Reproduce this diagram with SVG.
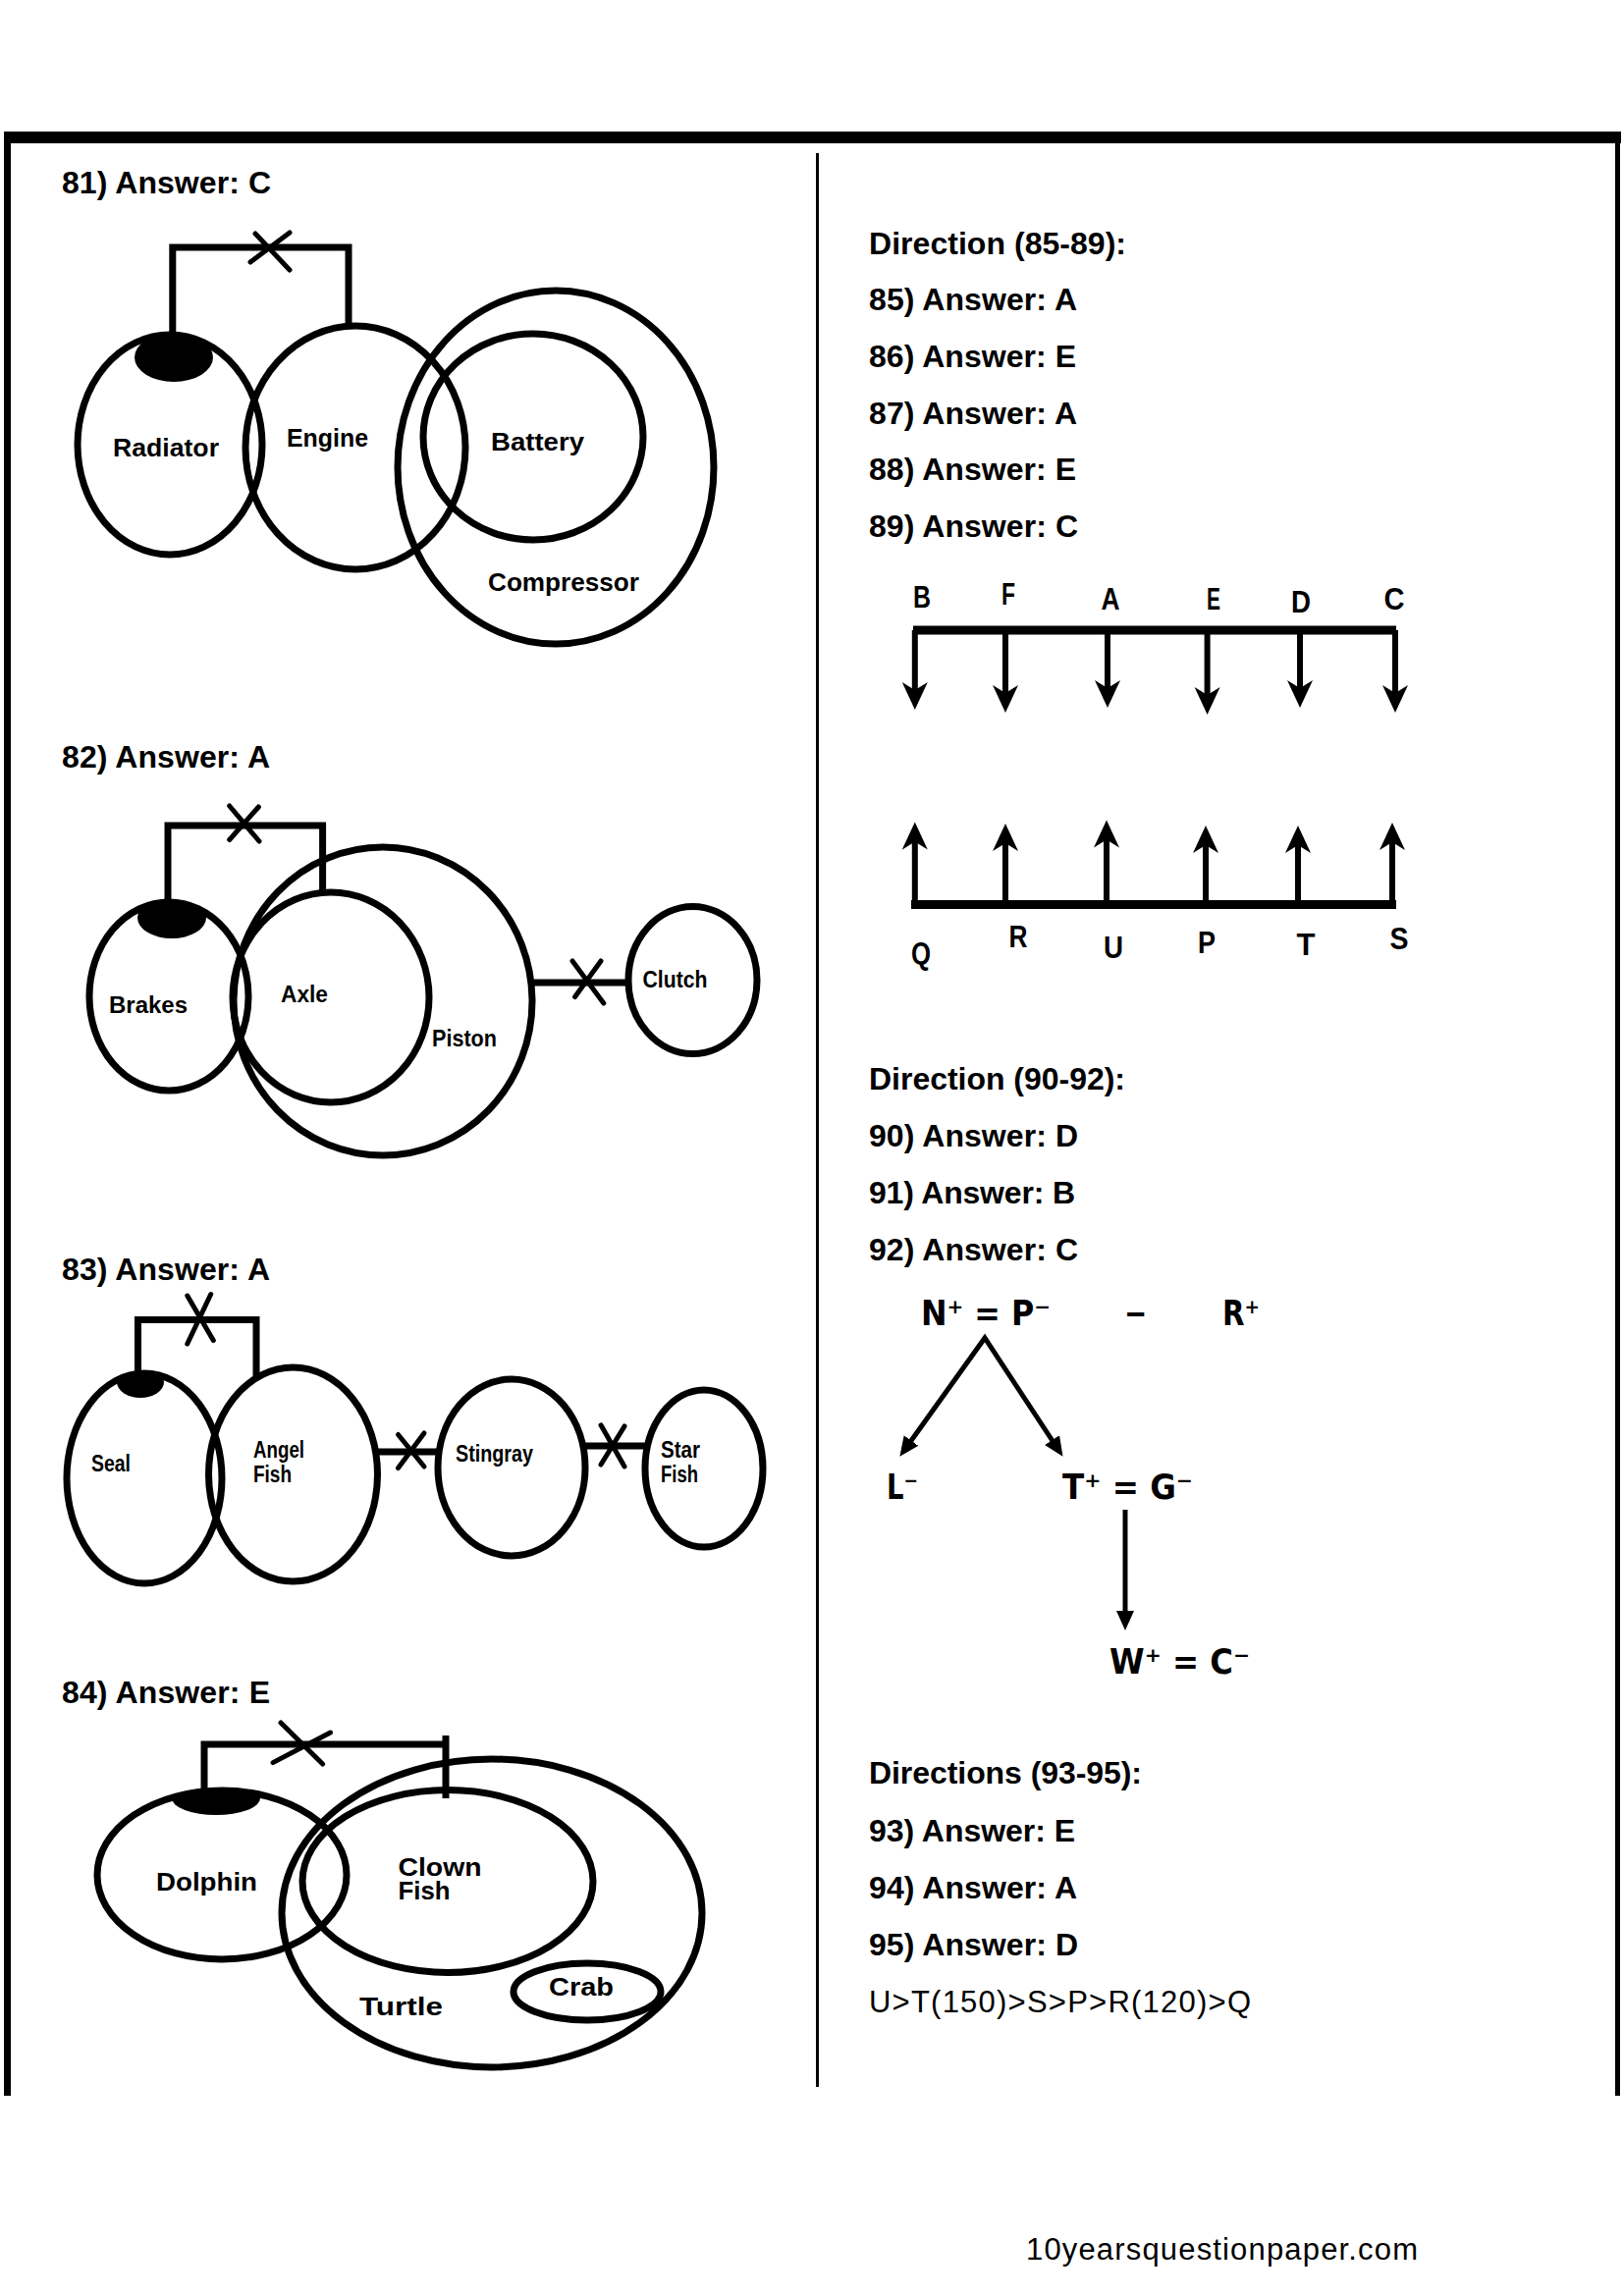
<svg xmlns="http://www.w3.org/2000/svg" width="1653" height="2339" viewBox="0 0 1653 2339">
<defs>
<style>
.ans{font-family:"Liberation Sans",Arial,sans-serif;font-weight:bold;font-size:32px;fill:#000}
.txt{font-family:"Liberation Sans",Arial,sans-serif;font-size:31px;fill:#000}
.lbl{font-family:"Liberation Sans",Arial,sans-serif;font-weight:bold;font-size:25px;fill:#000}
.lbs{font-family:"Liberation Sans",Arial,sans-serif;font-weight:bold;font-size:23px;fill:#000}
.let{font-family:"Liberation Sans",Arial,sans-serif;font-weight:bold;font-size:31px;fill:#000;text-anchor:middle}
.eq{font-family:"DejaVu Sans",sans-serif;font-weight:bold;font-size:35px;fill:#000}
.ring{fill:none;stroke:#000;stroke-width:7}
.wire{fill:none;stroke:#000;stroke-width:7}
.cross{fill:none;stroke:#000;stroke-width:5;stroke-linecap:round}
.arr{fill:none;stroke:#000;stroke-width:6;marker-end:url(#head)}
.arr2{fill:none;stroke:#000;stroke-width:5;stroke-linejoin:miter}
.blob{fill:#000}
</style>
<marker id="head" markerUnits="userSpaceOnUse" markerWidth="34" markerHeight="30" refX="15" refY="13" orient="auto"><path d="M0,0 L28,13 L0,26 L8,13 Z" fill="#000"/></marker>
<marker id="head2" markerUnits="userSpaceOnUse" markerWidth="22" markerHeight="20" refX="10" refY="9" orient="auto-start-reverse"><path d="M0,0 L20,9 L0,18 Z" fill="#000"/></marker>
<clipPath id="cRad"><ellipse cx="173" cy="453" rx="94" ry="112"/></clipPath>
<clipPath id="cBrk"><ellipse cx="172" cy="1015" rx="81" ry="96"/></clipPath>
<clipPath id="cSeal"><ellipse cx="147" cy="1506" rx="79" ry="107"/></clipPath>
<clipPath id="cDol"><ellipse cx="226" cy="1910" rx="127" ry="86"/></clipPath>
</defs>
<rect width="1653" height="2339" fill="#fff"/>
<g id="frame">
<rect x="4" y="134" width="1647" height="12" fill="#000"/>
<rect x="4" y="134" width="7" height="2001" fill="#000"/>
<rect x="1645" y="134" width="5" height="2001" fill="#000"/>
<rect x="831" y="156" width="3" height="1970" fill="#000"/>
</g>
<g id="headings">
<text class="ans" x="63" y="197" textLength="213">81) Answer: C</text>
<text class="ans" x="63" y="782" textLength="212">82) Answer: A</text>
<text class="ans" x="63" y="1304" textLength="212">83) Answer: A</text>
<text class="ans" x="63" y="1735" textLength="212">84) Answer: E</text>
<text class="ans" x="885" y="259" textLength="262">Direction (85-89):</text>
<text class="ans" x="885" y="316" textLength="212">85) Answer: A</text>
<text class="ans" x="885" y="374" textLength="211">86) Answer: E</text>
<text class="ans" x="885" y="432" textLength="212">87) Answer: A</text>
<text class="ans" x="885" y="489" textLength="211">88) Answer: E</text>
<text class="ans" x="885" y="547" textLength="213">89) Answer: C</text>
<text class="ans" x="885" y="1110" textLength="261">Direction (90-92):</text>
<text class="ans" x="885" y="1168" textLength="213">90) Answer: D</text>
<text class="ans" x="885" y="1226" textLength="210">91) Answer: B</text>
<text class="ans" x="885" y="1284" textLength="213">92) Answer: C</text>
<text class="ans" x="885" y="1817" textLength="278">Directions (93-95):</text>
<text class="ans" x="885" y="1876" textLength="210">93) Answer: E</text>
<text class="ans" x="885" y="1934" textLength="212">94) Answer: A</text>
<text class="ans" x="885" y="1992" textLength="213">95) Answer: D</text>
<text class="txt" x="885" y="2050" textLength="389">U&gt;T(150)&gt;S&gt;P&gt;R(120)&gt;Q</text>
<text class="txt" x="1045" y="2302" textLength="399">10yearsquestionpaper.com</text>
</g>
<g id="q81">
<g id="radiator">
<ellipse class="blob" cx="177" cy="364" rx="40" ry="25" clip-path="url(#cRad)"/>
<ellipse class="ring" cx="173" cy="453" rx="94" ry="112"/>
<text class="lbl" x="115" y="465" textLength="108" lengthAdjust="spacingAndGlyphs">Radiator</text>
</g>
<g id="engine">
<ellipse class="ring" cx="362" cy="456" rx="112" ry="124"/>
<text class="lbl" x="292" y="455" textLength="83" lengthAdjust="spacingAndGlyphs">Engine</text>
</g>
<g id="battery">
<ellipse class="ring" cx="543" cy="445" rx="112" ry="105"/>
<text class="lbl" x="500" y="459" textLength="95" lengthAdjust="spacingAndGlyphs">Battery</text>
</g>
<g id="compressor">
<ellipse class="ring" cx="566" cy="476" rx="161" ry="180"/>
<text class="lbl" x="497" y="602" textLength="154" lengthAdjust="spacingAndGlyphs">Compressor</text>
</g>
</g>
<g id="q82">
<g id="brakes">
<ellipse class="blob" cx="175" cy="935" rx="35" ry="21" clip-path="url(#cBrk)"/>
<ellipse class="ring" cx="172" cy="1015" rx="81" ry="96"/>
<text class="lbs" x="111" y="1032" textLength="80" lengthAdjust="spacingAndGlyphs">Brakes</text>
</g>
<g id="axle">
<ellipse class="ring" cx="337" cy="1016" rx="100" ry="107"/>
<text class="lbs" x="286" y="1021" textLength="48" lengthAdjust="spacingAndGlyphs">Axle</text>
</g>
<g id="piston">
<ellipse class="ring" cx="390" cy="1020" rx="152" ry="157"/>
<text class="lbs" x="440" y="1066" textLength="66" lengthAdjust="spacingAndGlyphs">Piston</text>
</g>
<g id="clutch">
<ellipse class="ring" cx="705.5" cy="998.5" rx="65.5" ry="75"/>
<text class="lbs" x="654.5" y="1006" textLength="66" lengthAdjust="spacingAndGlyphs">Clutch</text>
</g>
</g>
<g id="q83">
<g id="seal">
<ellipse class="blob" cx="143" cy="1408" rx="24" ry="16" clip-path="url(#cSeal)"/>
<ellipse class="ring" cx="147" cy="1506" rx="79" ry="107"/>
<text class="lbs" x="93" y="1499" textLength="40" lengthAdjust="spacingAndGlyphs">Seal</text>
</g>
<g id="angelfish">
<ellipse class="ring" cx="298.5" cy="1502" rx="86" ry="109"/>
<text class="lbs" x="258" y="1485" textLength="52" lengthAdjust="spacingAndGlyphs">Angel</text>
<text class="lbs" x="258" y="1510" textLength="39" lengthAdjust="spacingAndGlyphs">Fish</text>
</g>
<g id="stingray">
<ellipse class="ring" cx="521" cy="1495" rx="75" ry="90"/>
<text class="lbs" x="464" y="1489" textLength="79" lengthAdjust="spacingAndGlyphs">Stingray</text>
</g>
<g id="starfish">
<ellipse class="ring" cx="717" cy="1496" rx="60" ry="80"/>
<text class="lbs" x="673" y="1485" textLength="40" lengthAdjust="spacingAndGlyphs">Star</text>
<text class="lbs" x="673" y="1510" textLength="38" lengthAdjust="spacingAndGlyphs">Fish</text>
</g>
</g>
<g id="q84">
<g id="dolphin">
<ellipse class="blob" cx="220" cy="1832" rx="45" ry="17" clip-path="url(#cDol)"/>
<ellipse class="ring" cx="226" cy="1910" rx="127" ry="86"/>
<text class="lbl" x="159" y="1926" textLength="103" lengthAdjust="spacingAndGlyphs">Dolphin</text>
</g>
<g id="clownfish">
<ellipse class="ring" cx="456" cy="1916.5" rx="148" ry="93"/>
<text class="lbl" x="405.5" y="1911" textLength="85" lengthAdjust="spacingAndGlyphs">Clown</text>
<text class="lbl" x="405.5" y="1935" textLength="53" lengthAdjust="spacingAndGlyphs">Fish</text>
</g>
<g id="turtle">
<ellipse class="ring" cx="501" cy="1949" rx="214" ry="157"/>
<text class="lbl" x="366" y="2053" textLength="85" lengthAdjust="spacingAndGlyphs">Turtle</text>
</g>
<g id="crab">
<ellipse class="ring" cx="598" cy="2029" rx="75" ry="29"/>
<text class="lbl" x="559" y="2033" textLength="66" lengthAdjust="spacingAndGlyphs">Crab</text>
</g>
</g>
<g id="order-labels">
<text class="let" x="939" y="619" textLength="18" lengthAdjust="spacingAndGlyphs">B</text>
<text class="let" x="1027" y="616" textLength="14" lengthAdjust="spacingAndGlyphs">F</text>
<text class="let" x="1131" y="621" textLength="19" lengthAdjust="spacingAndGlyphs">A</text>
<text class="let" x="1236" y="621" textLength="14" lengthAdjust="spacingAndGlyphs">E</text>
<text class="let" x="1325" y="624" textLength="20" lengthAdjust="spacingAndGlyphs">D</text>
<text class="let" x="1420" y="621" textLength="21" lengthAdjust="spacingAndGlyphs">C</text>
<text class="let" x="938" y="982" textLength="20" lengthAdjust="spacingAndGlyphs">Q</text>
<text class="let" x="1037" y="965" textLength="19" lengthAdjust="spacingAndGlyphs">R</text>
<text class="let" x="1134" y="976" textLength="20" lengthAdjust="spacingAndGlyphs">U</text>
<text class="let" x="1229" y="971" textLength="18" lengthAdjust="spacingAndGlyphs">P</text>
<text class="let" x="1330" y="973" textLength="19" lengthAdjust="spacingAndGlyphs">T</text>
<text class="let" x="1425" y="967" textLength="19" lengthAdjust="spacingAndGlyphs">S</text>
</g>
<g id="relation-labels">
<text class="eq" x="938" y="1350" textLength="132" lengthAdjust="spacingAndGlyphs">N⁺ = P⁻</text>
<text class="eq" x="1145" y="1350" textLength="23" lengthAdjust="spacingAndGlyphs">−</text>
<text class="eq" x="1245" y="1350" textLength="38" lengthAdjust="spacingAndGlyphs">R⁺</text>
<text class="eq" x="903" y="1527" textLength="32" lengthAdjust="spacingAndGlyphs">L⁻</text>
<text class="eq" x="1082" y="1527" textLength="133" lengthAdjust="spacingAndGlyphs">T⁺ = G⁻</text>
<text class="eq" x="1130" y="1705" textLength="143" lengthAdjust="spacingAndGlyphs">W⁺ = C⁻</text>
</g>
<g id="connectors">
<path class="wire" d="M175.8,343 V252 H355 V333"/>
<path class="cross" d="M255,267 L295,237 M260,238 L295,275"/>
<path class="wire" d="M171,921 V841 H328.6 V911"/>
<path class="cross" d="M233.7,821 L264,857 M263.4,822 L233.7,855.5"/>
<path class="wire" d="M542,1001 H640"/>
<path class="cross" d="M583,979 L614.8,1022 M612,979 L585.6,1015.5"/>
<path class="wire" d="M140.5,1400 V1344.5 H261 V1404"/>
<path class="cross" d="M190.8,1320 L217.3,1365.6 M214.7,1318.5 L190.8,1369"/>
<path class="wire" d="M384,1479 H446"/>
<path class="cross" d="M405.5,1461.5 L432,1494 M432,1460 L405.5,1495.6"/>
<path class="wire" d="M596,1473 H657"/>
<path class="cross" d="M612,1451.8 L636,1494 M636,1453 L612,1492"/>
<path class="wire" d="M208,1826 V1777 H454"/>
<path class="wire" d="M454,1768 V1832"/>
<path class="cross" d="M286,1755 L328.6,1797 M336.5,1765 L278,1795.6"/>
<rect x="930" y="637.5" width="492" height="9" fill="#000"/>
<path class="arr" d="M931.8,642 V710"/>
<path class="arr" d="M1024,642 V713"/>
<path class="arr" d="M1128,642 V708"/>
<path class="arr" d="M1229.6,642 V715"/>
<path class="arr" d="M1324,642 V708"/>
<path class="arr" d="M1421,642 V713"/>
<rect x="928" y="917" width="494" height="9" fill="#000"/>
<path class="arr" d="M931.8,921 V850.5"/>
<path class="arr" d="M1024,921 V852"/>
<path class="arr" d="M1127,921 V848.6"/>
<path class="arr" d="M1228,921 V854"/>
<path class="arr" d="M1322,921 V854"/>
<path class="arr" d="M1418,921 V851"/>
<path class="arr2" d="M922.2,1475.7 L1003,1363 L1077,1475.5" marker-start="url(#head2)" marker-end="url(#head2)"/>
<path class="arr2" d="M1146,1538 V1651" marker-end="url(#head2)"/>
</g>
</svg>
